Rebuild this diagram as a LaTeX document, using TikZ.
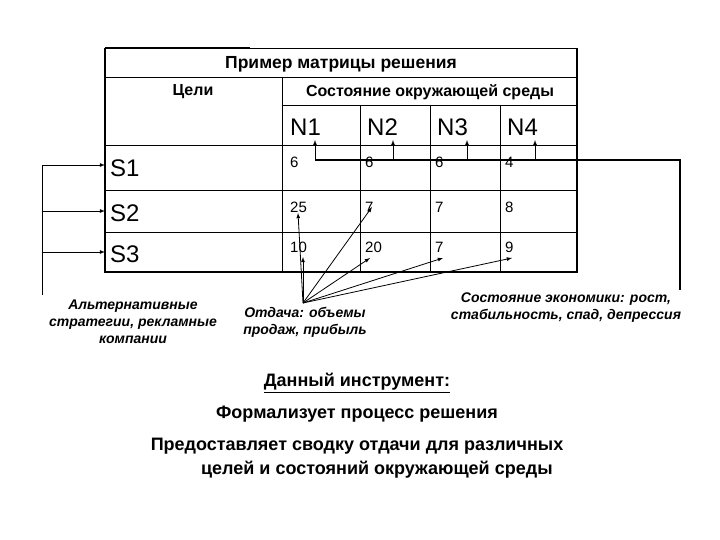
\documentclass[tikz,border=0pt]{standalone}
\usepackage{fontspec}
\setmainfont{Liberation Sans}
\begin{document}
\begin{tikzpicture}[x=1pt,y=-1pt,
 lab/.style={inner sep=0pt,anchor=base west},
 note/.style={font=\bfseries\itshape\fontsize{14}{17}\selectfont,align=center,inner sep=0pt},
 ar/.style={-latex,line width=0.8pt},
 ln/.style={line width=0.8pt}]
\useasboundingbox (0,0) rectangle (720,540);
% table
\draw[line width=0.6pt] (105,48) rectangle (577,272);
\draw[line width=2.2pt] (105,48) -- (105,272) -- (577,272);
\draw[line width=2.2pt] (105,48) -- (250,48);
\draw[line width=1.5pt] (577,48) -- (577,272);
\draw[line width=0.6pt] (105,77) -- (577,77) (282,105) -- (577,105) (105,145) -- (577,145)
 (105,190) -- (577,190) (105,232) -- (577,232)
 (282,77) -- (282,272) (360,105) -- (360,272) (430,105) -- (430,272) (500,105) -- (500,272);
\node[font=\bfseries\fontsize{17.5}{20}\selectfont] (title) at (341,64) {Пример матрицы решения};
\node[font=\bfseries\fontsize{16}{19}\selectfont] (goals) at (193,92) {Цели};
\node[font=\bfseries\fontsize{16}{19}\selectfont] (env) at (430,92) {Состояние окружающей среды};
\foreach \t/\x in {N1/290,N2/367,N3/437,N4/507}
 \node[lab,font=\fontsize{24}{28}\selectfont] (h\t) at (\x,136) {\t};
\foreach \t/\y in {S1/177,S2/222,S3/262}
 \node[lab,font=\fontsize{24}{28}\selectfont] (\t) at (110,\y) {\t};
\foreach \v/\x/\y/\n in {6/290/168/a1,6/365/168/a2,6/435/168/a3,4/505/168/a4,
 25/290/212/b1,7/365/212/b2,7/435/212/b3,8/505/212/b4,
 10/290/252/c1,20/365/252/c2,7/435/252/c3,9/505/252/c4}
 \node[lab,font=\fontsize{15}{18}\selectfont] (\n) at (\x,\y) {\v};
% left bracket
\coordinate (lt) at (42,165); \coordinate (lb) at (42,295);
\draw[ln] (lt) -- (lb);
\draw[ar] (lt) -- (105,165);
\draw[ar] (42,211) -- (105,211);
\draw[ar] (42,252) -- (105,252);
% right bracket
\coordinate (r1) at (680,160); \coordinate (r2) at (680,290);
\draw[line width=1.5pt] (315,160) -- (r1) -- (r2);
\foreach \x in {315,393,467,535} \draw[ar] (\x,160) -- (\x,140);
% payoff arrows
\coordinate (p) at (303,303);
\foreach \x/\y in {298/213,303/257,372/207,370/258,443/258,512/258}
 \draw[ar] (p) -- (\x,\y);
% notes
\node[note] (n1) at (133,322) {Альтернативные\\стратегии, рекламные\\компании};
\node[note] (n2) at (305,322) {Отдача: объемы\\продаж, прибыль};
\node[note] (n3) at (566,308) {Состояние экономики: рост,\\стабильность, спад, депрессия};
% bottom text
\node[font=\bfseries\fontsize{18}{24}\selectfont,inner sep=0pt] (t1) at (357,383) {\underline{Данный инструмент:}};
\node[font=\bfseries\fontsize{18}{24}\selectfont,inner sep=0pt] (t2) at (357,414) {Формализует процесс решения};
\node[font=\bfseries\fontsize{18}{24}\selectfont,inner sep=0pt,align=left] (t3) at (357,458) {Предоставляет сводку отдачи для различных\\\hspace*{2.8em}целей и состояний окружающей среды};
\end{tikzpicture}
\end{document}
